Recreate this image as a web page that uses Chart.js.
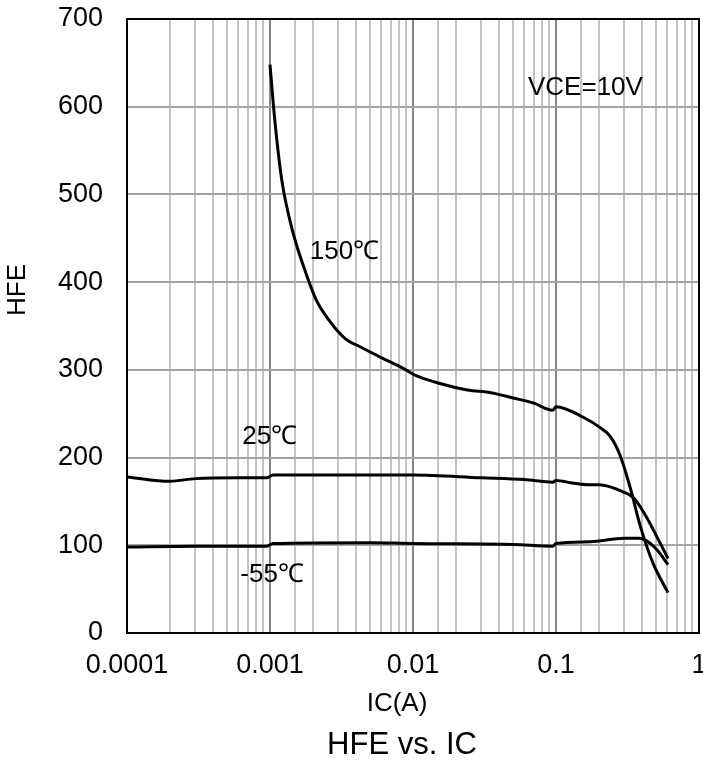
<!DOCTYPE html>
<html>
<head>
<meta charset="utf-8">
<title>HFE vs. IC</title>
<script src="https://cdn.jsdelivr.net/npm/chart.js@4.4.1/dist/chart.umd.min.js"></script>
<style>
  html, body { margin: 0; padding: 0; background: #fff; }
</style>
</head>
<body>
<canvas id="chart" width="703" height="762"></canvas>
<script>
// Data (IC in A, HFE)
const ic150 = [0.001, 0.00108, 0.00121, 0.00143, 0.0017, 0.0021, 0.00263, 0.00334, 0.0043, 0.006, 0.0085, 0.01, 0.015, 0.024, 0.035, 0.05, 0.07, 0.095, 0.1, 0.155, 0.2, 0.24, 0.28, 0.33, 0.39, 0.476, 0.607];
const hfe150 = [648, 585, 516, 460, 420, 380, 355, 336, 326, 314, 302, 295, 285, 277, 274, 268, 262, 254, 258, 246, 235, 224, 203, 166, 121, 80, 46];

const ic25 = [0.0001, 0.0002, 0.0003, 0.0006, 0.00095, 0.00105, 0.003, 0.01, 0.03, 0.06, 0.095, 0.1, 0.13, 0.165, 0.2, 0.294, 0.35, 0.43, 0.51, 0.607];
const hfe25 = [178, 173, 176, 177, 177, 180, 180, 180, 177, 175, 172, 174, 171, 169, 169, 161, 154, 132, 109, 85];

const icM55 = [0.0001, 0.0003, 0.00095, 0.00105, 0.005, 0.01, 0.05, 0.095, 0.1, 0.173, 0.3, 0.38, 0.44, 0.52, 0.607];
const hfeM55 = [98, 99, 99, 102, 103, 102, 101, 99, 102, 104, 108, 108, 104, 93, 78];

const yTicks = [0, 100, 200, 300, 400, 500, 600, 700];
const xDecades = [0.0001, 0.001, 0.01, 0.1, 1];

// text annotations, anchored in data units (left edge, vertical middle)
const curveLabels = [
  { text: '150℃', x: 0.0019, y: 434 },
  { text: '25℃', x: 0.00064, y: 224 },
  { text: '-55℃', x: 0.00062, y: 66 },
  { text: 'VCE=10V', x: 0.0637, y: 622 }
];

const FONT = "'Liberation Sans', Arial, Helvetica, sans-serif";
Chart.defaults.font.family = FONT;
Chart.defaults.color = '#000';

const toPoints = (xs, ys) => xs.map((x, i) => ({ x: x, y: ys[i] }));

const isDecade = v => Math.abs(Math.log10(v) - Math.round(Math.log10(v))) < 1e-6;

const lineStyle = {
  borderColor: '#000',
  borderWidth: 3,
  pointRadius: 0,
  fill: false,
  cubicInterpolationMode: 'monotone'
};

// frame + curve labels + outer titles
const decorations = {
  id: 'decorations',
  afterDatasetsDraw(chart) {
    const { ctx, chartArea: a, scales } = chart;
    ctx.save();
    ctx.strokeStyle = '#000';
    ctx.lineWidth = 2;
    ctx.strokeRect(a.left, a.top, a.right - a.left, a.bottom - a.top);

    ctx.fillStyle = '#000';
    ctx.textAlign = 'left';
    ctx.textBaseline = 'middle';
    ctx.font = '26px ' + FONT;
    curveLabels.forEach(l => {
      ctx.fillText(l.text, scales.x.getPixelForValue(l.x), scales.y.getPixelForValue(l.y));
    });

    ctx.textAlign = 'center';
    ctx.font = '26px ' + FONT;
    ctx.fillText('IC(A)', 397, 704);
    ctx.font = '31px ' + FONT;
    ctx.fillText('HFE vs. IC', 402, 745);

    ctx.translate(18, 290);
    ctx.rotate(-Math.PI / 2);
    ctx.font = '26px ' + FONT;
    ctx.fillText('HFE', 0, 0);
    ctx.restore();
  }
};

new Chart(document.getElementById('chart'), {
  type: 'line',
  data: {
    datasets: [
      { label: '150℃', data: toPoints(ic150, hfe150), ...lineStyle },
      { label: '25℃', data: toPoints(ic25, hfe25), ...lineStyle },
      { label: '-55℃', data: toPoints(icM55, hfeM55), ...lineStyle }
    ]
  },
  options: {
    responsive: false,
    animation: false,
    layout: { padding: { top: 19, right: 4, left: 0, bottom: 0 } },
    plugins: {
      legend: { display: false },
      tooltip: { enabled: false }
    },
    scales: {
      x: {
        type: 'logarithmic',
        min: 0.0001,
        max: 1,
        border: { display: false },
        grid: {
          drawTicks: false,
          color: ctx => isDecade(ctx.tick.value) ? '#858585' : '#c3c3c3',
          lineWidth: 2
        },
        ticks: {
          autoSkip: false,
          maxRotation: 0,
          padding: 16,
          font: { size: 27 },
          callback: v => xDecades.some(d => Math.abs(d - v) / d < 1e-6) ? String(v) : ''
        },
        afterFit: s => { s.height = 129; s.paddingLeft = 0; s.paddingRight = 0; }
      },
      y: {
        min: 0,
        max: 700,
        border: { display: false },
        afterBuildTicks: s => { s.ticks = yTicks.map(v => ({ value: v })); },
        grid: { drawTicks: false, color: '#a3a3a3', lineWidth: 2 },
        ticks: { padding: 24, font: { size: 27 } },
        afterFit: s => { s.width = 127; s.paddingTop = 0; s.paddingBottom = 0; }
      }
    }
  },
  plugins: [decorations]
});
</script>
</body>
</html>
